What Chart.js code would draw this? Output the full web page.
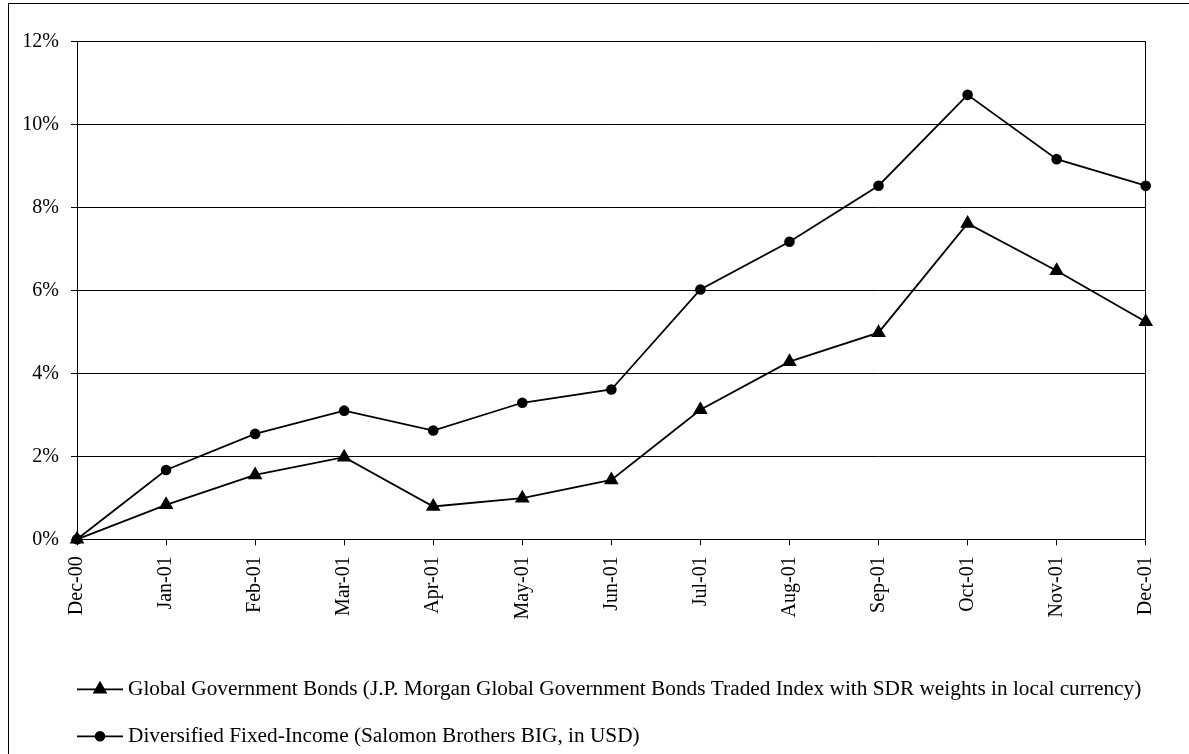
<!DOCTYPE html>
<html>
<head>
<meta charset="utf-8">
<title>Global Government Bonds vs Diversified Fixed-Income, 2001</title>
<script src="https://cdn.jsdelivr.net/npm/chart.js@4/dist/chart.umd.min.js"></script>
<style>
  html, body { margin: 0; padding: 0; background: #fff; overflow: hidden; }
  #frame { position: absolute; left: 8px; top: 3px; width: 1200px; height: 780px;
           border-left: 1px solid #000; border-top: 1px solid #000; }
  #wrap { position: absolute; left: 9px; top: 4px; width: 1180px; height: 750px; }
</style>
</head>
<body>
<div id="frame"></div>
<div id="wrap"><canvas id="chart" width="1180" height="750"></canvas></div>
<script>
// Month-end labels
const categories = ['Dec-00', 'Jan-01', 'Feb-01', 'Mar-01', 'Apr-01', 'May-01', 'Jun-01',
                    'Jul-01', 'Aug-01', 'Sep-01', 'Oct-01', 'Nov-01', 'Dec-01'];

// Cumulative returns since Dec-00, in percent
const globalGovBonds = [0, 0.83, 1.55, 1.98, 0.79, 0.99, 1.43, 3.12, 4.28, 4.98, 7.61, 6.47, 5.24];
const diversifiedFixedIncome = [0, 1.67, 2.54, 3.10, 2.62, 3.29, 3.61, 6.02, 7.17, 8.52, 10.71, 9.16, 8.52];

// Y axis ticks (percent)
const yTicks = [0, 2, 4, 6, 8, 10, 12];

const seriesNames = [
  'Global Government Bonds (J.P. Morgan Global Government Bonds Traded Index with SDR weights in local currency)',
  'Diversified Fixed-Income (Salomon Brothers BIG, in USD)'
];

const FAMILY = '"Liberation Serif", "Times New Roman", serif';
const FONT = { family: FAMILY, size: 20 };
const LEGEND_FONT_SIZE = 21.3;

function drawMarker(ctx, style, x, y, r, fill) {
  ctx.beginPath();
  if (style === 'triangle') {
    ctx.moveTo(x, y - r);
    ctx.lineTo(x + 0.866 * r, y + 0.5 * r);
    ctx.lineTo(x - 0.866 * r, y + 0.5 * r);
    ctx.closePath();
  } else {
    ctx.arc(x, y, r, 0, Math.PI * 2);
  }
  ctx.fillStyle = fill;
  ctx.fill();
}

// Legend below the axis: short line with marker, then the series name
const seriesLegend = {
  id: 'seriesLegend',
  afterDraw(chart) {
    const { ctx, chartArea } = chart;
    const x0 = chartArea.left;
    chart.data.datasets.forEach((ds, i) => {
      const y = chartArea.bottom + 150 + i * 47;
      ctx.save();
      ctx.strokeStyle = ds.borderColor;
      ctx.lineWidth = ds.borderWidth;
      ctx.beginPath();
      ctx.moveTo(x0, y);
      ctx.lineTo(x0 + 46, y);
      ctx.stroke();
      drawMarker(ctx, ds.pointStyle, x0 + 23, y, ds.pointRadius, ds.pointBackgroundColor);
      ctx.fillStyle = '#000';
      ctx.font = LEGEND_FONT_SIZE + 'px ' + FAMILY;
      ctx.textAlign = 'left';
      ctx.textBaseline = 'middle';
      ctx.fillText(ds.label, x0 + 51, y);
      ctx.restore();
    });
  }
};

new Chart(document.getElementById('chart'), {
  type: 'line',
  data: {
    labels: categories,
    datasets: [
      {
        label: seriesNames[0],
        data: globalGovBonds,
        borderColor: '#000',
        borderWidth: 1.8,
        pointStyle: 'triangle',
        pointRadius: 8.5,
        pointHoverRadius: 8.5,
        pointBackgroundColor: '#000',
        pointBorderColor: '#000',
        pointBorderWidth: 0,
        tension: 0,
        clip: false
      },
      {
        label: seriesNames[1],
        data: diversifiedFixedIncome,
        borderColor: '#000',
        borderWidth: 1.8,
        pointStyle: 'circle',
        pointRadius: 5.3,
        pointHoverRadius: 5.3,
        pointBackgroundColor: '#000',
        pointBorderColor: '#000',
        pointBorderWidth: 0,
        tension: 0,
        clip: false
      }
    ]
  },
  options: {
    responsive: false,
    animation: false,
    events: [],
    layout: { padding: { left: 0, top: 37.3, right: 43.3, bottom: 114.7 } },
    plugins: {
      legend: { display: false },
      tooltip: { enabled: false },
      title: { display: false }
    },
    scales: {
      x: {
        type: 'category',
        offset: false,
        afterFit(scale) { scale.height = 100; },
        grid: {
          drawOnChartArea: true,
          color: (c) => (c.index === categories.length - 1 ? '#000' : 'rgba(0,0,0,0)'),
          tickColor: '#000',
          tickLength: 6,
          lineWidth: 1
        },
        border: { display: true, color: '#000', width: 1 },
        ticks: {
          autoSkip: false,
          minRotation: 90,
          maxRotation: 90,
          padding: 11,
          color: '#000',
          font: FONT
        }
      },
      y: {
        min: 0,
        max: 12,
        afterFit(scale) { scale.width = 68; },
        afterBuildTicks(scale) { scale.ticks = yTicks.map(v => ({ value: v })); },
        grid: {
          color: '#000',
          tickColor: '#000',
          tickLength: 6,
          lineWidth: 1
        },
        border: { display: true, color: '#000', width: 1 },
        ticks: {
          padding: 12,
          color: '#000',
          font: FONT,
          callback: (v) => v + '%'
        }
      }
    }
  },
  plugins: [seriesLegend]
});
</script>
</body>
</html>
